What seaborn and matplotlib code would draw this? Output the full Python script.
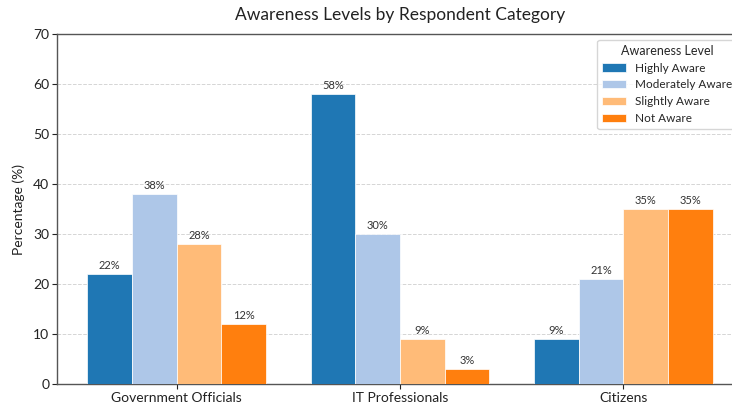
import matplotlib
matplotlib.use("Agg")
import matplotlib.pyplot as plt
import seaborn as sns
import pandas as pd

categories = ["Government Officials", "IT Professionals", "Citizens"]
levels = ["Highly Aware", "Moderately Aware", "Slightly Aware", "Not Aware"]
highly_aware = [22, 58, 9]
moderately_aware = [38, 30, 21]
slightly_aware = [28, 9, 35]
not_aware = [12, 3, 35]
colors = ["#1f77b4", "#aec7e8", "#ffbb78", "#ff7f0e"]

series = [highly_aware, moderately_aware, slightly_aware, not_aware]
rows = []
for lvl, vals in zip(levels, series):
    for cat, v in zip(categories, vals):
        rows.append({"Category": cat, "Level": lvl, "Value": v})
df = pd.DataFrame(rows)

sns.set_style("white")
plt.rcParams["font.family"] = ["Lato", "DejaVu Sans"]

fig = plt.figure(figsize=(7.32, 4.03), dpi=100)
ax = fig.add_axes([0.0779, 0.0471, 0.937, 0.8685])

sns.barplot(data=df, x="Category", y="Value", hue="Level", order=categories,
            hue_order=levels, palette=colors, saturation=1, ax=ax, width=0.8,
            edgecolor="white", linewidth=0.5, zorder=3)

for cont in ax.containers:
    ax.bar_label(cont, fmt="%d%%", padding=2, fontsize=8, color="#333333")

ax.set_ylim(0, 70)
ax.set_xlim(-0.536, 2.536)
ax.set_yticks(range(0, 71, 10))
ax.yaxis.grid(True, linestyle="--", color="#d5d5d5", linewidth=0.7, zorder=0)
ax.set_axisbelow(True)
ax.set_xlabel("")
ax.set_ylabel("Percentage (%)", fontsize=10, color="#222222", labelpad=6)
ax.set_title("Awareness Levels by Respondent Category", fontsize=12.5, color="#222222", pad=10)
ax.tick_params(axis="both", labelsize=10, colors="#222222", length=3.5, pad=2,
               left=True, bottom=True)
for s in ax.spines.values():
    s.set_color("#555555")
    s.set_linewidth(1.0)

leg = ax.legend(title="Awareness Level", loc="upper right", fontsize=8.5,
                title_fontsize=9, frameon=True)
leg.get_frame().set_edgecolor("#cccccc")

fig.savefig("out.png", dpi=100)
